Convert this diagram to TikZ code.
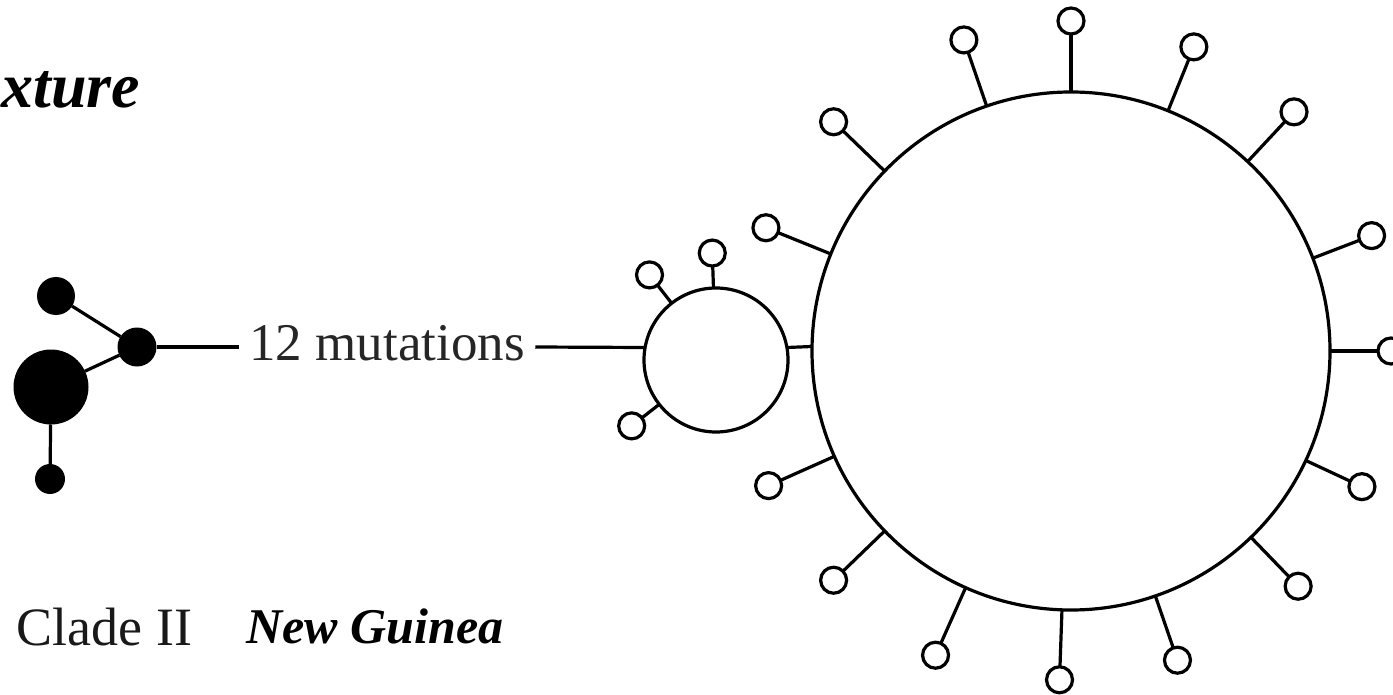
\documentclass[tikz,border=0pt]{standalone}
\usepackage{fontspec}
\setmainfont{Liberation Serif}

\begin{document}
\begin{tikzpicture}[x=1pt, y=-1pt, line width=3.2pt,
	blk/.style={circle, fill=black, inner sep=0pt, outer sep=0pt},
	opn/.style={circle, draw, minimum size=26pt, inner sep=0pt, outer sep=0pt},
	ring/.style={circle, draw, inner sep=0pt, outer sep=0pt},
	lbl/.style={inner sep=0pt, anchor=base west}]
	\useasboundingbox (0,0) rectangle (1393,695);
	\node[lbl, font=\fontsize{64}{70}\selectfont\bfseries\itshape] (title) at (0,108) {xture};
	% clade II
	\node[blk, minimum size=38pt] (A) at (56,296) {};
	\node[blk, minimum size=39pt] (B) at (137,347) {};
	\node[blk, minimum size=75pt] (C) at (51,387) {};
	\node[blk, minimum size=30pt] (D) at (50,479) {};
	\draw (A) -- (B);
	\draw (B) -- (C);
	\draw (C) -- (D);
	\node[lbl, font=\fontsize{54}{60}\selectfont, text=black!90] (clade) at (15,645) {Clade II};
	% New Guinea
	\node[lbl, font=\fontsize{50}{60}\selectfont\bfseries\itshape] (ng) at (245,643) {New Guinea};
	\node[ring, minimum size=144pt] (small) at (716,360) {};
	\node[ring, minimum size=518pt] (big) at (1071,351) {};
	\node[font=\fontsize{53}{60}\selectfont, inner xsep=9pt, inner ysep=0pt, anchor=base, text=black!85] (mut) at (387,360) {12 mutations};
	\draw (B) -- (B -| mut.west);
	\draw (mut.east |- B) -- (small.170);
	\draw (small.10) -- (big.179);
	\foreach \a/\d [count=\i] in {92/107, 128/108, 218/107} {
		\node[opn] (ps\i) at ([shift={(\a:\d pt)}]small.center) {};
		\draw (small.\a) -- (ps\i);
	}
	\foreach \a/\d [count=\i] in {0/320, 21/322, 47/327, 68/328, 90/330, 109/329, 136/330, 158/329, -156/331, -136/330, -114/333, -92/329, -71/327, -46/327, -25/321} {
		\node[opn] (pb\i) at ([shift={(\a:\d pt)}]big.center) {};
		\draw (big.\a) -- (pb\i);
	}
\end{tikzpicture}
\end{document}
